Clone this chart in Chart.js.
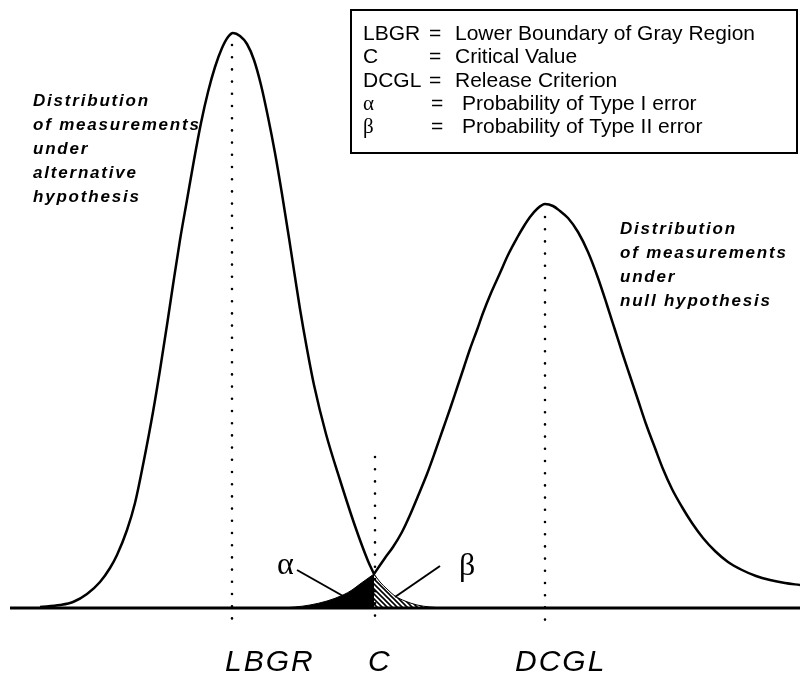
<!DOCTYPE html>
<html lang="en">
<head>
    <meta charset="UTF-8">
    <title>Gray Region Distributions</title>
    <style>
        body {
            margin: 0;
            background: #fff;
        }
        .wrap {
            position: relative;
            width: 800px;
            height: 678px;
        }
    </style>
    <script src="https://cdn.jsdelivr.net/npm/chart.js"></script>
</head>
<body>
    <div class="wrap">
        <canvas id="curves" width="800" height="678"></canvas>
    </div>

    <script>
        // heights above the baseline
        // alternative hypothesis (left bell), visible part up to C
        const altX = [40, 60, 73, 87, 100, 110, 117, 127, 135, 143, 153, 160, 167, 173, 180, 187, 194, 201, 208, 215, 222, 228, 233,
                      240, 247, 254, 261, 268, 275, 282, 289, 295, 300, 307, 314, 326, 340, 355, 368, 374];
        const altY = [1, 3, 6, 14, 26, 40, 53, 78, 105, 143, 196, 238, 283, 323, 368, 408, 448, 485, 516, 541, 560, 571, 575,
                      572, 564, 548, 523, 491, 455, 414, 370, 331, 299, 259, 223, 174, 128, 82, 47, 34];

        // tail of the alternative beyond C (beta, hatched)
        const betaX = [374, 380, 387, 395, 405, 417, 430, 445];
        const betaY = [34, 26, 19, 12, 7, 3, 1, 0];

        // null hypothesis (right bell), visible part from C
        const nullX = [374, 385, 393, 402, 410, 418, 427, 435, 443, 450, 457, 464, 470, 477, 483, 491, 500, 508, 517, 524, 530, 537, 545,
                       553, 560, 568, 578, 588, 598, 607, 615, 622, 630, 638, 646, 655, 663, 672, 682, 692, 703, 715, 728, 742, 756, 770, 785, 800];
        const nullY = [34, 50, 61, 76, 93, 112, 134, 156, 179, 199, 220, 241, 259, 278, 295, 315, 335, 353, 370, 382, 391, 399, 404,
                       402, 397, 390, 376, 356, 330, 303, 278, 256, 232, 208, 184, 160, 139, 119, 101, 85, 70, 57, 46, 38, 32, 28, 25, 23];

        // tail of the null below C (alpha, solid black)
        const alphaX = [283, 295, 310, 327, 343, 352, 360, 367, 374];
        const alphaY = [0, 1, 3, 7, 13, 18, 24, 29, 34];

        // reference positions on the measurement axis
        const markNames = ['LBGR', 'C', 'DCGL'];
        const markX = [232, 375, 545];
        const markTop = [563, 151, 391];
        const markBottom = -19;

        const axisStart = 10;
        const axisEnd = 800;

        // pointer lines for the alpha / beta labels
        const alphaPtrX = [297, 343];
        const alphaPtrY = [38, 12];
        const betaPtrX = [440, 395];
        const betaPtrY = [42, 11];

        function pts(xs, ys) {
            return xs.map((x, i) => ({ x: x, y: ys[i] }));
        }

        function hatchPattern() {
            const c = document.createElement('canvas');
            const s = 5;
            c.width = s;
            c.height = s;
            const g = c.getContext('2d');
            g.strokeStyle = '#000';
            g.lineWidth = 1.6;
            g.beginPath();
            g.moveTo(0, 0); g.lineTo(s, s);
            g.moveTo(-1, s - 1); g.lineTo(1, s + 1);
            g.moveTo(s - 1, -1); g.lineTo(s + 1, 1);
            g.stroke();
            return g.createPattern(c, 'repeat');
        }

        const curve = {
            borderColor: '#000',
            borderWidth: 2.5,
            pointRadius: 0,
            cubicInterpolationMode: 'monotone',
            fill: false
        };

        const dotted = {
            borderColor: '#000',
            borderWidth: 2.6,
            borderDash: [0, 12.2],
            borderCapStyle: 'round',
            pointRadius: 0,
            fill: false
        };

        const datasets = [
            Object.assign({}, curve, { data: pts(altX, altY) }),
            Object.assign({}, curve, { data: pts(nullX, nullY) }),
            Object.assign({}, curve, { data: pts(alphaX, alphaY), borderWidth: 1, fill: 'origin', backgroundColor: '#000' }),
            Object.assign({}, curve, { data: pts(betaX, betaY), borderWidth: 1, fill: 'origin', backgroundColor: hatchPattern() }),
            { data: pts([axisStart, axisEnd], [0, 0]), borderColor: '#000', borderWidth: 3, pointRadius: 0, fill: false },
            { data: pts(alphaPtrX, alphaPtrY), borderColor: '#000', borderWidth: 2, pointRadius: 0, fill: false },
            { data: pts(betaPtrX, betaPtrY), borderColor: '#000', borderWidth: 2, pointRadius: 0, fill: false }
        ];
        markX.forEach((x, i) => {
            datasets.push(Object.assign({}, dotted, { data: pts([x, x], [markTop[i], markBottom]) }));
        });

        // legend box + text labels
        const textPlugin = {
            id: 'labels',
            afterDraw(chart) {
                const ctx = chart.ctx;
                ctx.save();
                ctx.fillStyle = '#000';
                ctx.strokeStyle = '#000';

                // key box
                ctx.lineWidth = 2;
                ctx.strokeRect(351, 10, 446, 143);
                ctx.textBaseline = 'middle';
                ctx.textAlign = 'left';
                const rows = [
                    ['LBGR', 'Lower Boundary of Gray Region', false],
                    ['C', 'Critical Value', false],
                    ['DCGL', 'Release Criterion', false],
                    ['\u03b1', 'Probability of Type I error', true],
                    ['\u03b2', 'Probability of Type II error', true]
                ];
                rows.forEach((r, i) => {
                    const y = 34 + i * 23.4;
                    ctx.font = r[2] ? '21px "Liberation Serif"' : '21px "Liberation Sans"';
                    ctx.fillText(r[0], 363, y);
                    ctx.font = '21px "Liberation Sans"';
                    ctx.fillText('=', r[2] ? 431 : 429, y);
                    ctx.fillText(r[1], r[2] ? 462 : 455, y);
                });

                // curve captions
                ctx.font = 'italic bold 17px "Liberation Sans"';
                ctx.letterSpacing = '1.8px';
                ['Distribution', 'of measurements', 'under', 'alternative', 'hypothesis'].forEach((t, i) => {
                    ctx.fillText(t, 33, 101 + i * 24);
                });
                ['Distribution', 'of measurements', 'under', 'null hypothesis'].forEach((t, i) => {
                    ctx.fillText(t, 620, 229 + i * 24);
                });

                // axis labels
                ctx.font = 'italic 30px "Liberation Sans"';
                ctx.letterSpacing = '2px';
                const labelLeft = [225, 368, 515];
                markNames.forEach((n, i) => {
                    ctx.fillText(n, labelLeft[i], 663);
                });
                ctx.letterSpacing = '0px';

                // alpha / beta
                ctx.font = '32px "Liberation Serif"';
                ctx.textBaseline = 'alphabetic';
                ctx.fillText('\u03b1', 277, 574);
                ctx.fillText('\u03b2', 459, 575);
                ctx.restore();
            }
        };

        new Chart(document.getElementById('curves'), {
            type: 'line',
            data: { datasets: datasets },
            options: {
                responsive: false,
                animation: false,
                devicePixelRatio: 1,
                layout: { padding: 0 },
                plugins: {
                    legend: { display: false },
                    tooltip: { enabled: false }
                },
                scales: {
                    x: { type: 'linear', min: 0, max: 800, display: false },
                    y: { type: 'linear', min: -70, max: 608, display: false }
                }
            },
            plugins: [textPlugin]
        });
    </script>
</body>
</html>
